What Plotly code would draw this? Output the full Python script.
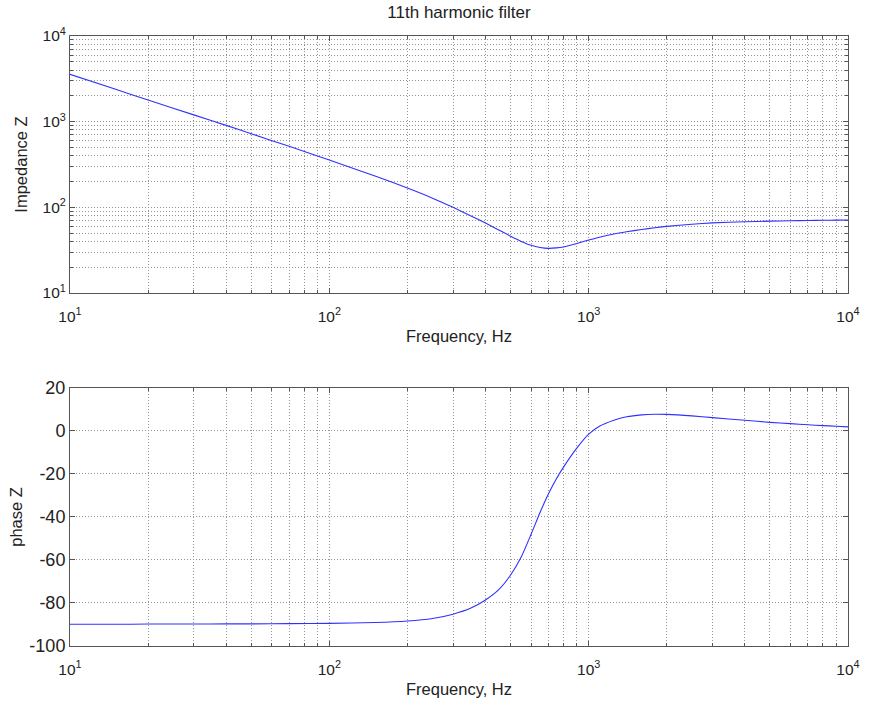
import plotly.graph_objects as go
from plotly.subplots import make_subplots

# values
freq = [10, 15, 20, 30, 40, 50, 70, 100, 150, 200, 250, 300, 350, 400, 450,
        500, 550, 600, 650, 700, 750, 800, 900, 1000, 1100, 1250, 1400, 1600,
        1800, 2000, 2500, 3000, 4000, 5000, 6000, 7000, 8000, 9000, 10000]
impedance = [3570, 2385, 1790, 1200, 905, 722, 515, 357, 232, 168, 128, 100,
             80, 65.5, 54.5, 46, 40, 36, 34, 33.2, 33.6, 34.5, 37.8, 41.5,
             44.8, 48.8, 51.8, 55, 57.8, 60, 63.5, 65.8, 67.8, 69, 69.7, 70.2,
             70.6, 70.9, 71.1]
phase = [-89.9, -89.9, -89.8, -89.8, -89.7, -89.7, -89.6, -89.5, -89.1, -88.4,
         -87.2, -85.2, -82.5, -78.6, -73.8, -67.0, -58.5, -48.0, -37.8, -29.2,
         -22.3, -16.8, -8.0, -1.5, 2.2, 5.0, 6.6, 7.5, 7.8, 7.7, 7.0, 6.2, 5.0,
         4.0, 3.4, 2.9, 2.5, 2.2, 1.9]

decades = [10, 100, 1000, 10000]
decade_text = ['10<sup>1</sup>', '10<sup>2</sup>', '10<sup>3</sup>', '10<sup>4</sup>']
phase_ticks = [-100, -80, -60, -40, -20, 0, 20]
phase_text = ['-100', '-80', '-60', '-40', '-20', '0', '20']
minor_vals = [m * d for d in [10, 100, 1000] for m in range(2, 10)]

axis_col = '#555555'
grid_col = '#939393'
fam = 'Liberation Sans, Arial'
label_font = dict(family=fam, size=16.5, color='#222222')
log_tick_font = dict(family=fam, size=15.5, color='#222222')
lin_tick_font = dict(family=fam, size=18, color='#222222')

fig = make_subplots(rows=2, cols=1)

fig.add_trace(go.Scatter(x=freq, y=impedance, mode='lines',
                         line=dict(color='#3030ff', width=1.1, shape='spline', smoothing=0.6),
                         showlegend=False), row=1, col=1)
fig.add_trace(go.Scatter(x=freq, y=phase, mode='lines',
                         line=dict(color='#3030ff', width=1.1, shape='spline', smoothing=0.6),
                         showlegend=False), row=2, col=1)

common = dict(showline=True, linecolor=axis_col, linewidth=1, mirror='allticks',
              ticks='inside', ticklen=5, tickcolor=axis_col,
              showgrid=True, gridcolor=grid_col, griddash='1px,2px', gridwidth=1,
              zeroline=False, automargin=False)

log_minor = dict(tickvals=minor_vals, ticks='inside', ticklen=3, tickcolor=axis_col,
                 showgrid=True, gridcolor=grid_col, griddash='1px,2px', gridwidth=1)

for r in (1, 2):
    fig.update_xaxes(type='log', range=[1, 4], tickvals=decades, ticktext=decade_text,
                     tickfont=log_tick_font, ticklabelstandoff=9, minor=log_minor,
                     title=dict(text='Frequency, Hz', font=label_font, standoff=6),
                     row=r, col=1, **common)

fig.update_yaxes(type='log', range=[1, 4], tickvals=decades, ticktext=decade_text,
                 tickfont=log_tick_font, minor=log_minor,
                 title=dict(text='Impedance Z', font=label_font, standoff=10),
                 row=1, col=1, **common)
fig.update_yaxes(range=[-100, 20], tickvals=phase_ticks, ticktext=phase_text,
                 tickfont=lin_tick_font,
                 title=dict(text='phase Z', font=label_font, standoff=2),
                 row=2, col=1, **common)

fig.update_layout(
    width=870, height=703,
    margin=dict(l=70, r=22, t=36, b=57),
    paper_bgcolor='white', plot_bgcolor='white',
    font=label_font,
    title=dict(text='11th harmonic filter', xref='paper', x=0.5, xanchor='center',
               y=1 - 12 / 703, yanchor='middle',
               font=dict(family=fam, size=17, color='#222222')),
)
fig.layout.yaxis.domain = [0.5787, 1.0]
fig.layout.yaxis2.domain = [0.0, 0.423]

fig.write_html("out.html", config={'displayModeBar': False},
               post_script="document.body.style.margin='0';")
